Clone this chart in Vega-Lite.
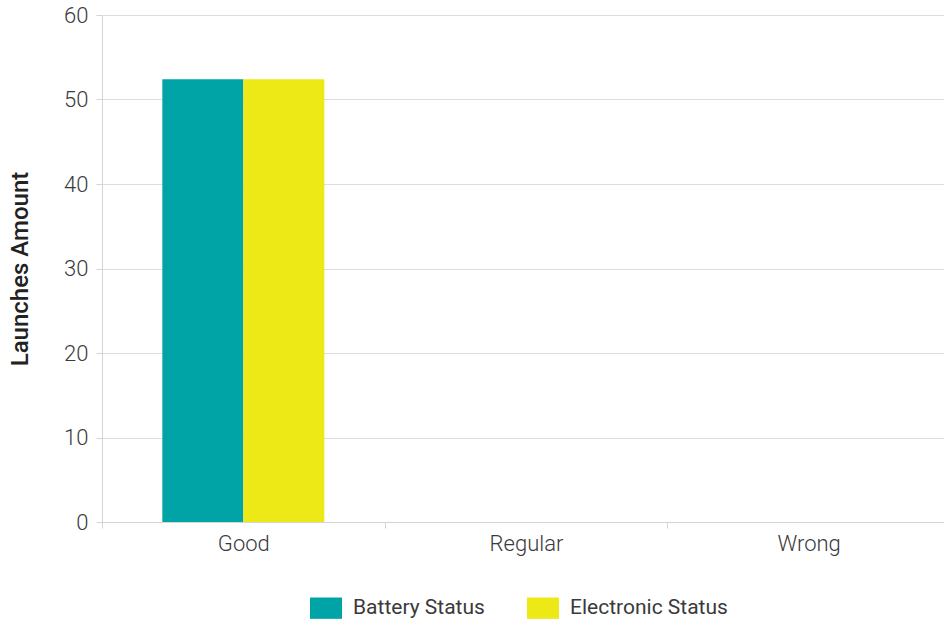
{
  "$schema": "https://vega.github.io/schema/vega-lite/v6.json",
  "autosize": {"type": "none"},
  "padding": {"left": 102, "top": 15, "right": 0, "bottom": 99},
  "width": 842,
  "height": 507,
  "background": "white",
  "data": {
    "values": [
      {"status": "Good", "series": "Battery Status", "launches": 52.4},
      {"status": "Good", "series": "Electronic Status", "launches": 52.4},
      {"status": "Regular", "series": "Battery Status", "launches": 0},
      {"status": "Regular", "series": "Electronic Status", "launches": 0},
      {"status": "Wrong", "series": "Battery Status", "launches": 0},
      {"status": "Wrong", "series": "Electronic Status", "launches": 0}
    ]
  },
  "config": {
    "font": "Roboto",
    "view": {"stroke": null},
    "axis": {
      "labelFont": "Roboto",
      "labelFontWeight": 300,
      "labelFontSize": 22,
      "labelColor": "#3a3a3a",
      "gridColor": "#dddddd",
      "domainColor": "#d4d4d4",
      "tickColor": "#d4d4d4",
      "tickSize": 6
    },
    "legend": {
      "labelFont": "Roboto",
      "labelFontSize": 21,
      "labelColor": "#3a3a3a",
      "labelFontWeight": 400
    }
  },
  "mark": {"type": "bar"},
  "encoding": {
    "x": {
      "field": "status",
      "type": "nominal",
      "sort": ["Good", "Regular", "Wrong"],
      "scale": {"range": [0, 848], "paddingInner": 0, "paddingOuter": 0},
      "axis": {
        "title": null,
        "labelAngle": 0,
        "tickBand": "extent",
        "labelPadding": 5,
        "grid": false
      }
    },
    "xOffset": {
      "field": "series",
      "type": "nominal",
      "scale": {"paddingInner": 0, "paddingOuter": 0.745}
    },
    "y": {
      "field": "launches",
      "type": "quantitative",
      "scale": {"domain": [0, 60], "nice": false},
      "axis": {
        "title": "Launches Amount",
        "titleFont": "Roboto",
        "titleFontSize": 24,
        "titleFontWeight": 500,
        "titleColor": "#222222",
        "titlePadding": 31,
        "values": [0, 10, 20, 30, 40, 50, 60],
        "labelPadding": 8,
        "grid": true,
        "domain": true
      }
    },
    "color": {
      "field": "series",
      "type": "nominal",
      "scale": {
        "domain": ["Battery Status", "Electronic Status"],
        "range": ["#00a3a6", "#ece916"]
      },
      "legend": {
        "title": null,
        "orient": "none",
        "legendX": 213,
        "legendY": 582,
        "direction": "horizontal",
        "symbolType": "M-1.5,-1H1.5V1H-1.5Z",
        "symbolSize": 455,
        "symbolStrokeWidth": 0,
        "labelOffset": 16,
        "columnPadding": 42
      }
    }
  }
}
